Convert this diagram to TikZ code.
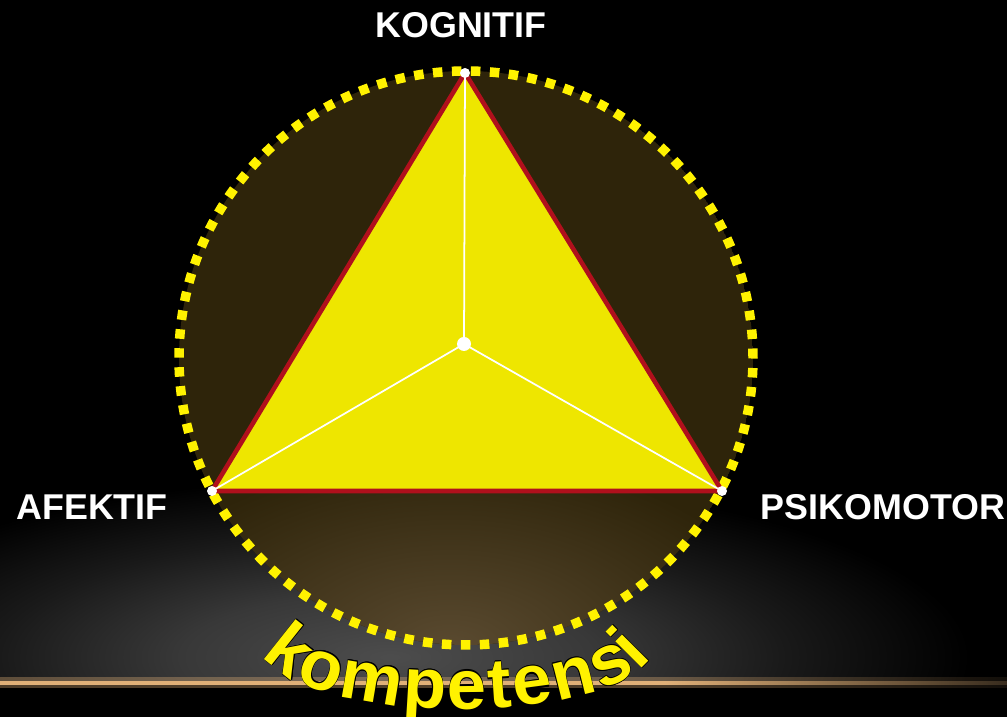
\documentclass[tikz,border=0pt]{standalone}
\usepackage{fontspec}
\setsansfont{Liberation Sans}
\usetikzlibrary{decorations.text}

\definecolor{trifill}{HTML}{EEE600}
\definecolor{triedge}{HTML}{B0101C}
\definecolor{dotyellow}{HTML}{FFF200}
\definecolor{circdark}{HTML}{2E240A}
\definecolor{circlight}{HTML}{5A4A30}
\definecolor{glowline}{HTML}{E0B078}

\pgfdeclareradialshading{floorglow}{\pgfpointorigin}{color(0bp)=(black!70!white); color(9bp)=(black!78!white); color(17bp)=(black!90!white); color(25bp)=(black); color(50bp)=(black)}
\pgfdeclareradialshading{circglow}{\pgfpointorigin}{color(0bp)=(circlight); color(25bp)=(circdark); color(50bp)=(circdark)}
\pgfdeclarehorizontalshading{linefade}{100bp}{color(0bp)=(glowline); color(25bp)=(glowline); color(58bp)=(glowline); color(75bp)=(glowline!25!black); color(100bp)=(glowline!25!black)}

\newcommand\kompfont{\sffamily\bfseries\fontsize{20pt}{20pt}\selectfont}

\begin{document}
\begin{tikzpicture}[
  lbl/.style={text=white, inner sep=0pt, font=\sffamily\bfseries\fontsize{10.2pt}{12pt}\selectfont},
  vdot/.style={circle, fill=white, inner sep=0pt, minimum size=0.1cm},
  spoke/.style={white, line width=0.5pt},
  komp/.style={decorate, decoration={text along path, text align={fit to path}, text={|\kompfont|kompetensi}, text color=#1}}
]
\useasboundingbox (0,0) rectangle (10.07,7.17);
\fill[black] (0,0) rectangle (10.07,7.17);

% glow on the floor
\begin{scope}
\clip (0,0.34) rectangle (10.07,7.17);
\shade[shading=floorglow] (3.9,0.6) ellipse (5.8 and 1.8);
\end{scope}
\shade[shading=linefade, opacity=0.35] (0,0.29) rectangle (10.07,0.39);
\shade[shading=linefade] (0,0.325) rectangle (10.07,0.355);

\coordinate (c) at (4.66,3.59);
\coordinate (kog) at (4.65,6.44);
\coordinate (afe) at (2.12,2.26);
\coordinate (psi) at (7.22,2.26);
\coordinate (mid) at (4.64,3.73);

\begin{scope}
\clip (c) circle (2.87);
\fill[circdark] (c) circle (2.87);
\shade[shading=circglow] (4.5,0.7) ellipse (3.4 and 1.9);
\end{scope}
\draw[dotyellow, line width=2.7pt, dash pattern=on 2.7pt off 2.7pt] (c) circle (2.87);

\filldraw[fill=trifill, draw=triedge, line width=1.3pt, line join=miter] (kog) -- (afe) -- (psi) -- cycle;
\draw[spoke] (mid) -- (kog);
\draw[spoke] (mid) -- (afe);
\draw[spoke] (mid) -- (psi);

\node[vdot] (kogdot) at (kog) {};
\node[vdot] (afedot) at (afe) {};
\node[vdot] (psidot) at (psi) {};
\node[vdot, minimum size=0.14cm] (middot) at (mid) {};

\node[lbl] (kogtext) at (4.61,6.92) {KOGNITIF};
\node[lbl] (afetext) at (0.92,2.10) {AFEKTIF};
\node[lbl] (psitext) at (8.83,2.10) {PSIKOMOTOR};

\coordinate (ka) at (2.63,0.63);
\coordinate (kb) at (6.52,0.60);
\foreach \dx/\dy in {0.02/0,-0.02/0,0/0.02,0/-0.02,0.014/0.014,-0.014/0.014,0.014/-0.014,-0.014/-0.014}{
\path[komp=black, shift={(\dx,\dy)}] (ka) .. controls (3.1,-0.1) and (6.05,-0.1) .. (kb);
}
\path[komp=dotyellow] (ka) .. controls (3.1,-0.1) and (6.05,-0.1) .. (kb);
\end{tikzpicture}
\end{document}
